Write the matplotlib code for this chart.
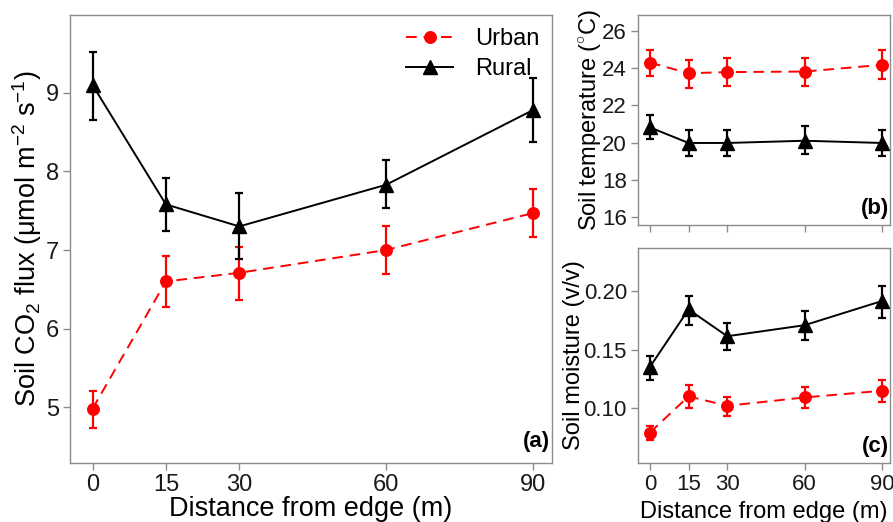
import matplotlib
matplotlib.use("Agg")
import matplotlib.pyplot as plt
from matplotlib.lines import Line2D
import numpy as np

plt.rcParams['font.family'] = ['Liberation Sans', 'DejaVu Sans']
plt.rcParams['mathtext.fontset'] = 'custom'
plt.rcParams['mathtext.rm'] = 'Liberation Sans'
plt.rcParams['mathtext.it'] = 'Liberation Sans'

distance = [0, 15, 30, 60, 90]
dist_labels = ["0", "15", "30", "60", "90"]

# Panel (a): soil CO2 flux
flux_urban = [4.98, 6.60, 6.71, 7.00, 7.47]
flux_urban_lo = [4.74, 6.28, 6.37, 6.70, 7.16]
flux_urban_hi = [5.21, 6.92, 7.04, 7.31, 7.78]
flux_rural = [9.10, 7.58, 7.30, 7.83, 8.78]
flux_rural_lo = [8.65, 7.24, 6.88, 7.53, 8.37]
flux_rural_hi = [9.52, 7.92, 7.72, 8.15, 9.19]

# Panel (b): soil temperature
temp_urban = [24.30, 23.73, 23.79, 23.82, 24.18]
temp_urban_lo = [23.59, 22.93, 23.02, 23.05, 23.41]
temp_urban_hi = [24.98, 24.45, 24.55, 24.57, 24.98]
temp_rural = [20.82, 19.98, 19.98, 20.10, 19.98]
temp_rural_lo = [20.20, 19.30, 19.27, 19.41, 19.27]
temp_rural_hi = [21.50, 20.70, 20.70, 20.88, 20.70]

# Panel (c): soil moisture
moist_urban = [0.0795, 0.1103, 0.1023, 0.1094, 0.1151]
moist_urban_lo = [0.0732, 0.1006, 0.0937, 0.1003, 0.1051]
moist_urban_hi = [0.0855, 0.1200, 0.1100, 0.1180, 0.1245]
moist_rural = [0.1353, 0.1843, 0.1615, 0.1709, 0.1915]
moist_rural_lo = [0.1245, 0.1712, 0.1496, 0.1587, 0.1772]
moist_rural_hi = [0.1450, 0.1957, 0.1724, 0.1826, 0.2043]

W, H = 893, 522
fig = plt.figure(figsize=(W / 100, H / 100), dpi=100)

def box(l, t, r, b):
    return [l / W, (H - b) / H, (r - l) / W, (b - t) / H]

ax_a = fig.add_axes(box(70, 15, 552, 463))
ax_b = fig.add_axes(box(638, 15, 890, 225))
ax_c = fig.add_axes(box(638, 248, 890, 463))

RED = '#ff0000'
GRAY = '#8c8c8c'
DASH = (0, (5.5, 3.5))

def draw(ax, yu, ylo_u, yhi_u, yr, ylo_r, yhi_r, ms_c=8.3, ms_t=10.5):
    yu = np.array(yu); yr = np.array(yr)
    err_u = [yu - np.array(ylo_u), np.array(yhi_u) - yu]
    err_r = [yr - np.array(ylo_r), np.array(yhi_r) - yr]
    ax.errorbar(distance, yu, yerr=err_u, color=RED, ecolor=RED, elinewidth=1.6,
                capsize=2.6, capthick=1.6, linestyle=DASH, linewidth=1.4,
                marker='o', markersize=ms_c, zorder=3)
    ax.errorbar(distance, yr, yerr=err_r, color='black', ecolor='black', elinewidth=1.6,
                capsize=2.6, capthick=1.6, linestyle='-', linewidth=1.4,
                marker='^', markersize=ms_t, zorder=4)
    for s in ax.spines.values():
        s.set_color(GRAY)
        s.set_linewidth(1.0)
    ax.tick_params(colors=GRAY, labelcolor='#1a1a1a', length=5, width=1.0,
                   direction='out', pad=3)
    ax.set_xticks(distance)

draw(ax_a, flux_urban, flux_urban_lo, flux_urban_hi, flux_rural, flux_rural_lo, flux_rural_hi)
ax_a.set_xlim(-4.6, 93.9)
ax_a.set_ylim(4.29, 9.99)
ax_a.set_yticks([5, 6, 7, 8, 9])
ax_a.set_xticklabels(dist_labels)
ax_a.tick_params(labelsize=17)
ax_a.set_xlabel('Distance from edge (m)', fontsize=19.5, labelpad=0)
ax_a.set_ylabel(r'Soil CO$_2$ flux ($\mu$mol m$^{-2}$ s$^{-1}$)', fontsize=19.5, labelpad=1)
ax_a.text(0.995, 0.025, '(a)', transform=ax_a.transAxes, ha='right', va='bottom',
          fontsize=16, fontweight='bold')
handles = [
    Line2D([], [], color=RED, linestyle=DASH, linewidth=1.4, marker='o', markersize=8.3),
    Line2D([], [], color='black', linestyle='-', linewidth=1.4, marker='^', markersize=10.5),
]
ax_a.legend(handles, ['Urban', 'Rural'], loc='upper right', bbox_to_anchor=(1.0, 1.0),
            frameon=False, fontsize=17, handlelength=2.0, handletextpad=0.9,
            labelspacing=0.35, borderaxespad=0.15)

draw(ax_b, temp_urban, temp_urban_lo, temp_urban_hi, temp_rural, temp_rural_lo, temp_rural_hi)
ax_b.set_xlim(-4.6, 93.1)
ax_b.set_ylim(15.57, 26.86)
ax_b.set_yticks([16, 18, 20, 22, 24, 26])
ax_b.set_xticklabels([])
ax_b.tick_params(labelsize=16)
ax_b.set_ylabel(r'Soil temperature ($^{\circ}$C)', fontsize=17, labelpad=-1)
ax_b.text(0.995, 0.03, '(b)', transform=ax_b.transAxes, ha='right', va='bottom',
          fontsize=16, fontweight='bold')

draw(ax_c, moist_urban, moist_urban_lo, moist_urban_hi, moist_rural, moist_rural_lo, moist_rural_hi)
ax_c.set_xlim(-4.6, 93.1)
ax_c.set_ylim(0.0536, 0.2366)
ax_c.set_yticks([0.10, 0.15, 0.20])
ax_c.set_yticklabels(['0.10', '0.15', '0.20'])
ax_c.set_xticklabels(dist_labels)
ax_c.tick_params(labelsize=16)
ax_c.set_xlabel('Distance from edge (m)', fontsize=17, labelpad=4)
ax_c.set_ylabel('Soil moisture (v/v)', fontsize=17, labelpad=-1)
ax_c.text(0.995, 0.03, '(c)', transform=ax_c.transAxes, ha='right', va='bottom',
          fontsize=16, fontweight='bold')

fig.savefig('out.png', dpi=100)
